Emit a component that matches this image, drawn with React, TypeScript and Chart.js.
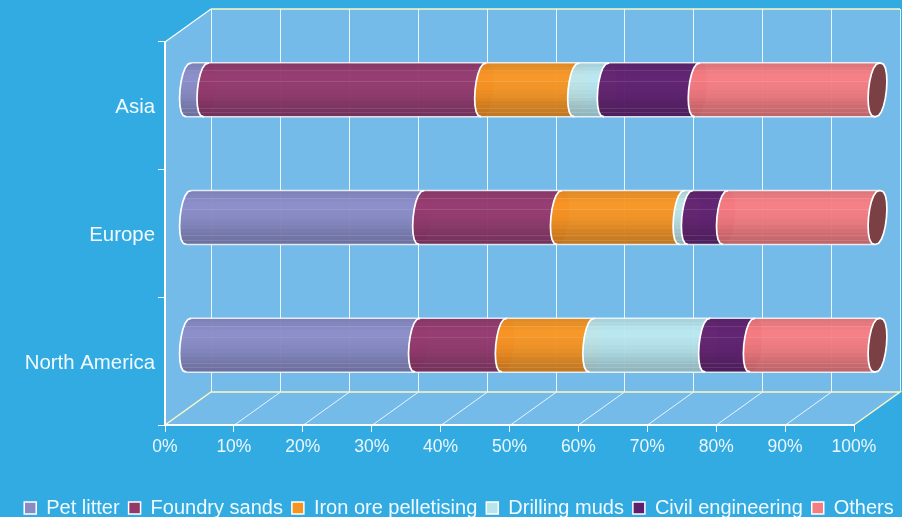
import React, { useEffect, useRef } from "react";
import { Chart, registerables } from "chart.js";

Chart.register(...registerables);

const categories = ["Asia", "Europe", "North America"];
const seriesNames = ["Pet litter", "Foundry sands", "Iron ore pelletising", "Drilling muds", "Civil engineering", "Others"];
const petLitter = [2.6, 33.9, 33.3];
const foundrySands = [40.3, 20.0, 12.6];
const ironOre = [13.5, 17.8, 12.7];
const drillingMuds = [4.3, 1.2, 16.8];
const civilEngineering = [13.2, 5.1, 6.5];
const others = [26.1, 22.0, 18.1];
const seriesValues = [petLitter, foundrySands, ironOre, drillingMuds, civilEngineering, others];
const seriesColors: number[][] = [
  [138, 138, 196],
  [148, 56, 108],
  [247, 148, 33],
  [184, 228, 236],
  [96, 30, 108],
  [245, 124, 128],
];

const BG = "#31abe1";
const WALL = "#74bbea";
const YELLOW = "#fbf8c4";
const DEPTH_X = 46;
const DEPTH_Y = 33;
const ARC_X = 9;
const SKEW = 2.5;
const BANDS = [0.93, 0.96, 1, 1.02, 1.02, 1, 0.99, 0.97, 0.95, 0.92, 0.88, 0.85, 0.82, 0.8];
const GLOSS = [0.14, 0.34, 0.83, 0.91];
const FONT = "'Liberation Sans', Arial, sans-serif";

function rgb(c: number[], f = 1, a = 0.96) {
  const v = c.map((n) => Math.min(255, Math.round(n * f)));
  return `rgba(${v[0]},${v[1]},${v[2]},${a})`;
}

function halfArc(ctx: CanvasRenderingContext2D, cx: number, cy: number, r: number, side: number, reverse: boolean) {
  const n = 10;
  for (let k = 0; k <= n; k++) {
    const i = reverse ? n - k : k;
    const t = -Math.PI / 2 + (Math.PI * i) / n;
    const bulge = Math.pow(Math.max(0, Math.cos(t)), 0.8);
    const x = cx + side * ARC_X * bulge - SKEW * Math.sin(t);
    const y = cy + r * Math.sin(t);
    ctx.lineTo(x, y);
  }
}

const legendShift = {
  id: "legendShift",
  afterLayout(chart: any) {
    chart.legend.left += 8;
    chart.legend.right += 8;
    chart.legend.top += 1;
    chart.legend.bottom += 1;
  },
};

const walls = {
  id: "walls",
  beforeDraw(chart: any) {
    const { ctx, scales } = chart;
    const xs = scales.x;
    const ys = scales.y;
    const L = xs.left, R = xs.right, T = ys.top, B = ys.bottom;
    ctx.save();
    ctx.fillStyle = WALL;
    ctx.beginPath();
    ctx.moveTo(L, T);
    ctx.lineTo(L + DEPTH_X, T - DEPTH_Y);
    ctx.lineTo(R + DEPTH_X, T - DEPTH_Y);
    ctx.lineTo(R + DEPTH_X, B - DEPTH_Y);
    ctx.lineTo(R, B);
    ctx.lineTo(L, B);
    ctx.closePath();
    ctx.fill();

    ctx.strokeStyle = "rgba(255,255,255,0.85)";
    ctx.lineWidth = 1;
    for (const t of xs.ticks) {
      const x = Math.round(xs.getPixelForValue(t.value)) + 0.5;
      ctx.beginPath();
      ctx.moveTo(x + DEPTH_X, T - DEPTH_Y);
      ctx.lineTo(x + DEPTH_X, B - DEPTH_Y);
      ctx.stroke();
      if (t.value > 0 && t.value < 100) {
        ctx.beginPath();
        ctx.moveTo(x, B);
        ctx.lineTo(x + DEPTH_X, B - DEPTH_Y);
        ctx.stroke();
      }
    }
    ctx.strokeStyle = YELLOW;
    ctx.lineWidth = 1.5;
    ctx.beginPath();
    ctx.moveTo(L, B);
    ctx.lineTo(L + DEPTH_X, B - DEPTH_Y);
    ctx.lineTo(R + DEPTH_X, B - DEPTH_Y);
    ctx.lineTo(R, B);
    ctx.moveTo(L + DEPTH_X, T - DEPTH_Y);
    ctx.lineTo(R + DEPTH_X, T - DEPTH_Y);
    ctx.stroke();
    ctx.strokeStyle = "#ffffff";
    ctx.lineWidth = 1.2;
    ctx.beginPath();
    ctx.moveTo(L, T);
    ctx.lineTo(L + DEPTH_X, T - DEPTH_Y);
    ctx.stroke();
    ctx.restore();
  },
};

const cylinders = {
  id: "cylinders",
  beforeDatasetDraw() {
    return false;
  },
  afterDatasetsDraw(chart: any) {
    const { ctx } = chart;
    const metas = seriesValues.map((_, d) => chart.getDatasetMeta(d));
    const sx = DEPTH_X / 2 + 0.5;
    const sy = DEPTH_Y / 2 - 0.5;
    categories.forEach((_, i) => {
      metas.forEach((meta: any, d: number) => {
        const el = meta.data[i];
        const x0 = el.base + sx;
        const x1 = el.x + sx;
        const cy = el.y - sy;
        const r = el.height / 2;
        const color = seriesColors[d];
        const top = cy - r;
        const grad = ctx.createLinearGradient(0, top, 0, top + 2 * r);
        BANDS.forEach((f, b) => {
          grad.addColorStop(b / BANDS.length, rgb(color, f));
          grad.addColorStop((b + 1) / BANDS.length, rgb(color, f));
        });
        ctx.save();
        ctx.beginPath();
        halfArc(ctx, x0, cy, r, -1, false);
        halfArc(ctx, x1, cy, r, 1, true);
        ctx.closePath();
        ctx.fillStyle = grad;
        ctx.fill();
        ctx.save();
        ctx.clip();
        ctx.strokeStyle = "rgba(255,255,255,0.1)";
        ctx.lineWidth = 1;
        for (const g of GLOSS) {
          const y = Math.round(top + g * 2 * r) + 0.5;
          ctx.beginPath();
          ctx.moveTo(x0 - ARC_X - SKEW, y);
          ctx.lineTo(x1 + ARC_X + SKEW, y);
          ctx.stroke();
        }
        ctx.restore();
        ctx.lineJoin = "round";
        ctx.strokeStyle = "rgba(255,255,255,0.8)";
        ctx.lineWidth = 1.5;
        ctx.beginPath();
        ctx.moveTo(x0 + SKEW, top);
        ctx.lineTo(x1 + SKEW, top);
        ctx.moveTo(x0 - SKEW, top + 2 * r);
        ctx.lineTo(x1 - SKEW, top + 2 * r);
        ctx.stroke();
        ctx.strokeStyle = "#ffffff";
        ctx.lineWidth = 1.7;
        ctx.beginPath();
        halfArc(ctx, x0, cy, r, -1, false);
        ctx.stroke();
        if (d === metas.length - 1) {
          ctx.beginPath();
          halfArc(ctx, x1, cy, r, -1, false);
          halfArc(ctx, x1, cy, r, 1, true);
          ctx.closePath();
          ctx.fillStyle = "#7a4044";
          ctx.fill();
          ctx.strokeStyle = "#ffffff";
          ctx.stroke();
        }
        ctx.restore();
      });
    });
  },
};

export default function App() {
  const ref = useRef<HTMLCanvasElement>(null);
  useEffect(() => {
    const chart = new Chart(ref.current!, {
      type: "bar",
      data: {
        labels: categories,
        datasets: seriesNames.map((name, d) => ({
          label: name,
          data: seriesValues[d],
          yAxisID: "y",
          backgroundColor: rgb(seriesColors[d], 1, 1),
          borderColor: "#ffffff",
          borderWidth: 1.5,
          barThickness: 54,
        })),
      },
      options: {
        indexAxis: "y",
        responsive: false,
        animation: false,
        layout: { padding: { top: 42, left: 0, right: 0, bottom: -10 } },
        plugins: {
          tooltip: { enabled: false },
          title: { display: false },
          legend: {
            position: "bottom",
            align: "center",
            labels: {
              boxWidth: 12,
              boxHeight: 12,
              padding: 9,
              color: "#f2fafe",
              font: { family: FONT, size: 20 },
            },
          },
        },
        scales: {
          x: {
            type: "linear",
            stacked: true,
            min: 0,
            max: 100,
            grid: { drawOnChartArea: false, drawTicks: true, tickLength: 7, color: "#ffffff" },
            border: { color: "#ffffff", width: 2 },
            ticks: {
              stepSize: 10,
              maxRotation: 0,
              padding: 5,
              color: "#ecf7fd",
              font: { family: FONT, size: 17.5 },
              callback: (v: any) => `${v}%`,
            },
            afterFit: (s: any) => {
              s.height = 63;
            },
          },
          y: {
            type: "category",
            stacked: true,
            grid: { drawOnChartArea: false, drawTicks: true, tickLength: 7, color: "#ffffff" },
            border: { color: "#ffffff", width: 2 },
            ticks: { padding: 3, labelOffset: 2, color: "#f2fafe", font: { family: FONT, size: 20.4 } },
            afterFit: (s: any) => {
              s.width = 165;
            },
          },
          yPad: {
            type: "linear",
            position: "right",
            display: true,
            grid: { display: false },
            border: { display: false },
            ticks: { display: false },
            afterFit: (s: any) => {
              s.width = 48;
            },
          },
        },
      } as any,
      plugins: [walls, cylinders, legendShift],
    } as any);
    return () => chart.destroy();
  }, []);
  return (
    <div style={{ position: "fixed", left: 0, top: 0, width: 902, height: 517, background: BG, overflow: "hidden" }}>
      <canvas ref={ref} width={902} height={517} style={{ display: "block" }} />
    </div>
  );
}
